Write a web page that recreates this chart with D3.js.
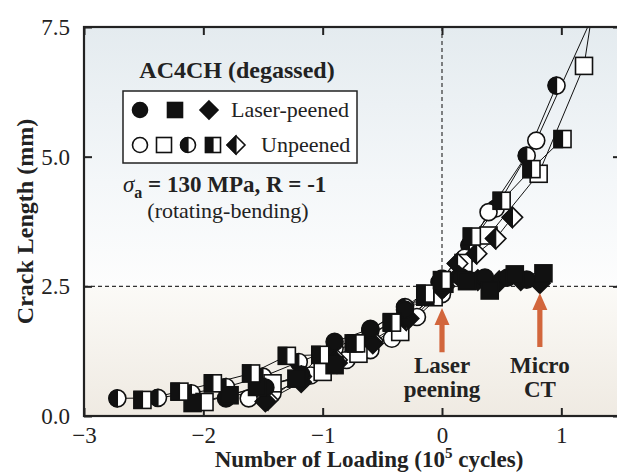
<!DOCTYPE html>
<html><head><meta charset="utf-8">
<script src="https://cdn.jsdelivr.net/npm/d3@7"></script>
<style>
html,body{margin:0;padding:0;background:#fff;}
svg{display:block;font-family:"Liberation Serif","Times New Roman",serif;}
</style></head>
<body><svg id="c" width="617" height="474"></svg>
<script>
// ---- data (x in 10^5 cycles, y in mm) ----
const xTicks = [-3, -2, -1, 0, 1];
const xTickLabels = ["\u22123", "\u22122", "\u22121", "0", "1"];
const yTicks = [0, 2.5, 5, 7.5];
const yTickLabels = ["0.0", "2.5", "5.0", "7.5"];

const halfCircleX = [-2.72, -2.38, -2.10, -1.81, -1.50, -1.20, -0.90, -0.60, -0.31, -0.02, 0.23, 0.45, 0.71, 0.96];
const halfCircleY = [0.34, 0.35, 0.44, 0.56, 0.76, 1.04, 1.30, 1.65, 2.10, 2.58, 3.29, 4.00, 5.02, 6.37];

const openCircleX = [-1.62, -1.42, -1.10, -0.80, -0.60, -0.42, -0.21, 0.00, 0.19, 0.39, 0.79, 1.30];
const openCircleY = [0.34, 0.44, 0.78, 1.08, 1.27, 1.49, 1.91, 2.35, 3.05, 3.93, 5.31, 7.90];

const openSquareX = [-1.99, -1.42, -1.00, -0.70, -0.35, -0.07, 0.18, 0.39, 0.81, 1.19, 1.26];
const openSquareY = [0.27, 0.63, 0.85, 1.20, 1.62, 2.29, 2.95, 3.48, 4.67, 6.75, 7.80];

const halfDiamondX = [-1.46, -1.18, -0.88, -0.58, -0.30, 0.02, 0.13, 0.29, 0.45, 0.59];
const halfDiamondY = [0.31, 0.76, 1.08, 1.46, 1.85, 2.50, 2.94, 3.13, 3.42, 3.83];

const filledDiamondX = [-1.48, -1.18, -0.88, -0.58, -0.28, 0.00, 0.14, 0.30, 0.48, 0.66, 0.82];
const filledDiamondY = [0.28, 0.65, 1.02, 1.40, 1.88, 2.45, 2.70, 2.62, 2.60, 2.62, 2.56];

const filledCircleX = [-1.81, -1.48, -1.18, -0.90, -0.60, -0.31, 0.00, 0.16, 0.36, 0.55, 0.71];
const filledCircleY = [0.34, 0.55, 0.80, 1.43, 1.68, 2.05, 2.65, 2.68, 2.67, 2.67, 2.63];

const filledSquareX = [-2.09, -1.78, -1.55, -1.22, -0.90, -0.74, -0.42, -0.14, 0.02, 0.21, 0.40, 0.61, 0.85];
const filledSquareY = [0.25, 0.40, 0.56, 0.72, 0.98, 1.40, 1.81, 2.30, 2.55, 2.60, 2.42, 2.73, 2.75];

const halfSquareX = [-2.51, -2.20, -1.92, -1.60, -1.30, -1.02, -0.72, -0.42, -0.14, 0.00, 0.25, 0.50, 0.75, 1.01];
const halfSquareY = [0.31, 0.47, 0.63, 0.82, 1.16, 1.18, 1.40, 1.80, 2.36, 2.62, 3.46, 4.15, 4.76, 5.34];

const seriesNames = ["halfCircle","openCircle","openSquare","halfDiamond","filledDiamond","filledCircle","filledSquare","halfSquare"];
const seriesShapes = ["circle","circle","square","diamond","diamond","circle","square","square"];
const seriesFills = ["half","open","open","half","filled","filled","filled","half"];
const seriesX = [halfCircleX, openCircleX, openSquareX, halfDiamondX, filledDiamondX, filledCircleX, filledSquareX, halfSquareX];
const seriesY = [halfCircleY, openCircleY, openSquareY, halfDiamondY, filledDiamondY, filledCircleY, filledSquareY, halfSquareY];

const legendRow1 = {shapes:["circle","square","diamond"], fills:["filled","filled","filled"], label:"Laser-peened"};
const legendRow2 = {shapes:["circle","square","circle","square","diamond"], fills:["open","open","half","half","half"], label:"Unpeened"};

const arrowX = [0, 0.82];
const arrowTipY = [2.08, 2.37];
const arrowTailY = [1.23, 1.33];
const arrowLabels = [["Laser","peening"],["Micro","CT"]];
const arrowLabelY = [0.83, 0.37];

const refX = 0, refY = 2.5;

// ---- layout ----
const svg = d3.select("#c");
const L = 84, R = 621, T = 27, B = 416;
const x = d3.scaleLinear().domain([-3, 1.5]).range([L, R]);
const y = d3.scaleLinear().domain([0, 7.5]).range([B, T]);

const defs = svg.append("defs");
const gTop = defs.append("linearGradient").attr("id","gTop").attr("gradientUnits","userSpaceOnUse")
  .attr("x1",0).attr("x2",0).attr("y1",y(7.5)).attr("y2",y(2.5));
gTop.append("stop").attr("offset","0").attr("stop-color","#e4ebef");
gTop.append("stop").attr("offset","0.6").attr("stop-color","#f4f7f9");
gTop.append("stop").attr("offset","1").attr("stop-color","#fdfdfd");
const gBot = defs.append("linearGradient").attr("id","gBot").attr("gradientUnits","userSpaceOnUse")
  .attr("x1",0).attr("x2",0).attr("y1",y(2.5)).attr("y2",y(0));
gBot.append("stop").attr("offset","0").attr("stop-color","#fbfaf7");
gBot.append("stop").attr("offset","1").attr("stop-color","#efeae2");
defs.append("clipPath").attr("id","clip").append("rect")
  .attr("x",L).attr("y",T).attr("width",R-L).attr("height",B-T);

svg.append("rect").attr("x",L).attr("y",y(7.5)).attr("width",R-L).attr("height",y(2.5)-y(7.5)).attr("fill","url(#gTop)");
svg.append("rect").attr("x",L).attr("y",y(2.5)).attr("width",R-L).attr("height",y(0)-y(2.5)).attr("fill","url(#gBot)");

// reference dashed lines
svg.append("line").attr("x1",L).attr("x2",R).attr("y1",y(refY)).attr("y2",y(refY))
  .attr("stroke","#333").attr("stroke-width",1.2).attr("stroke-dasharray","4,3");
svg.append("line").attr("x1",x(refX)).attr("x2",x(refX)).attr("y1",T).attr("y2",y(refY))
  .attr("stroke","#333").attr("stroke-width",1.2).attr("stroke-dasharray","4,3");

// axes
const fs = 23;
const ax = svg.append("g").attr("transform",`translate(0,${B})`)
  .call(d3.axisBottom(x).tickValues(xTicks).tickFormat((d,i)=>xTickLabels[i]).tickSize(-8).tickPadding(11));
const axT = svg.append("g").attr("transform",`translate(0,${T})`)
  .call(d3.axisTop(x).tickValues(xTicks).tickFormat("").tickSize(-8));
const ay = svg.append("g").attr("transform",`translate(${L},0)`)
  .call(d3.axisLeft(y).tickValues(yTicks).tickFormat((d,i)=>yTickLabels[i]).tickSize(-8).tickPadding(14));
const ayR = svg.append("g").attr("transform",`translate(${R},0)`)
  .call(d3.axisRight(y).tickValues(yTicks).tickFormat("").tickSize(-8));
[ax,axT,ay,ayR].forEach(g=>{
  g.select(".domain").remove();
  g.selectAll(".tick line").attr("stroke","#222").attr("stroke-width",2);
  g.selectAll(".tick text").attr("font-family","Liberation Serif").attr("font-size",fs).attr("fill","#222");
});

// series lines
const plot = svg.append("g").attr("clip-path","url(#clip)");
const line = d3.line().x(d=>x(d[0])).y(d=>y(d[1]));
seriesX.forEach((xs,i)=>{
  const pts = xs.map((v,j)=>[v, seriesY[i][j]]);
  plot.append("path").attr("d",line(pts)).attr("fill","none").attr("stroke","#111").attr("stroke-width",1);
});

// marker drawing
function drawMarker(g, shape, fill, cx, cy, s){
  const m = g.append("g").attr("transform",`translate(${cx},${cy})`);
  const bg = fill==="filled" ? "#111" : "#fff";
  let outline;
  if(shape==="circle"){
    outline = m.append("circle").attr("r",s);
  } else if(shape==="square"){
    outline = m.append("rect").attr("x",-s).attr("y",-s).attr("width",2*s).attr("height",2*s);
  } else {
    const d = s*1.2;
    outline = m.append("path").attr("d",`M0,${-d}L${d},0L0,${d}L${-d},0Z`);
  }
  outline.attr("fill",bg).attr("stroke","#111").attr("stroke-width",1.6);
  if(fill==="half"){
    let p;
    if(shape==="circle") p = `M0,${-s}A${s},${s} 0 0 0 0,${s}Z`;
    else if(shape==="square") p = `M0,${-s}L${-s},${-s}L${-s},${s}L0,${s}Z`;
    else { const d=s*1.2; p = `M0,${-d}L${-d},0L0,${d}Z`; }
    m.append("path").attr("d",p).attr("fill","#111").attr("stroke","#111").attr("stroke-width",1.2);
  }
}

const mk = svg.append("g").attr("clip-path","url(#clip)");
seriesX.forEach((xs,i)=>{
  xs.forEach((v,j)=>{
    drawMarker(mk, seriesShapes[i], seriesFills[i], x(v), y(seriesY[i][j]), 8.5);
  });
});

// border
svg.append("rect").attr("x",L).attr("y",T).attr("width",R-L).attr("height",B-T)
  .attr("fill","none").attr("stroke","#222").attr("stroke-width",2.2);

// arrows + labels
const orange = "#d2663c";
arrowX.forEach((v,i)=>{
  const cx = x(v), ty = y(arrowTipY[i]), by = y(arrowTailY[i]);
  const hw = 7.5, hl = 17, sw = 2.6;
  svg.append("path").attr("d",
    `M${cx},${ty}L${cx+hw},${ty+hl}L${cx+sw},${ty+hl}L${cx+sw},${by}L${cx-sw},${by}L${cx-sw},${ty+hl}L${cx-hw},${ty+hl}Z`)
    .attr("fill",orange);
  const t = svg.append("text").attr("text-anchor","middle").attr("font-weight","bold")
    .attr("font-size",23).attr("fill","#222");
  t.append("tspan").attr("x",cx).attr("y",y(arrowLabelY[0])).text(arrowLabels[i][0]);
  t.append("tspan").attr("x",cx).attr("y",y(arrowLabelY[1])).text(arrowLabels[i][1]);
});

// title & legend
svg.append("text").attr("x",237).attr("y",78).attr("text-anchor","middle")
  .attr("font-weight","bold").attr("font-size",24).attr("fill","#222").text("AC4CH (degassed)");
svg.append("rect").attr("x",123).attr("y",91).attr("width",234).attr("height",72)
  .attr("fill","#fff").attr("stroke","#222").attr("stroke-width",1.5);
const lg = svg.append("g");
const r1x = [140,175,209];
legendRow1.shapes.forEach((s,i)=>drawMarker(lg, s, legendRow1.fills[i], r1x[i], 110, 7.5));
lg.append("text").attr("x",231).attr("y",117).attr("font-size",22).attr("fill","#222").text(legendRow1.label);
const r2x = [140,164,188,213,236];
legendRow2.shapes.forEach((s,i)=>drawMarker(lg, s, legendRow2.fills[i], r2x[i], 145, 7.5));
lg.append("text").attr("x",261).attr("y",152).attr("font-size",22).attr("fill","#222").text(legendRow2.label);

const st = svg.append("text").attr("x",123).attr("y",192).attr("font-weight","bold").attr("font-size",23).attr("fill","#222");
st.append("tspan").attr("font-style","italic").attr("font-weight","normal").text("\u03c3");
st.append("tspan").attr("font-size",16).attr("dy",6).text("a");
st.append("tspan").attr("dy",-6).text(" = 130 MPa, R = -1");
svg.append("text").attr("x",228).attr("y",218).attr("text-anchor","middle").attr("font-size",22)
  .attr("fill","#222").text("(rotating-bending)");

// axis titles
const xt = svg.append("text").attr("x",369).attr("y",467).attr("text-anchor","middle")
  .attr("font-weight","bold").attr("font-size",23).attr("fill","#222");
xt.append("tspan").text("Number of Loading (10");
xt.append("tspan").attr("font-size",15).attr("dy",-9).text("5");
xt.append("tspan").attr("dy",9).text(" cycles)");
svg.append("text").attr("transform",`translate(33,${(T+B)/2}) rotate(-90)`).attr("text-anchor","middle")
  .attr("font-weight","bold").attr("font-size",24).attr("fill","#222").text("Crack Length (mm)");
</script></body></html>
